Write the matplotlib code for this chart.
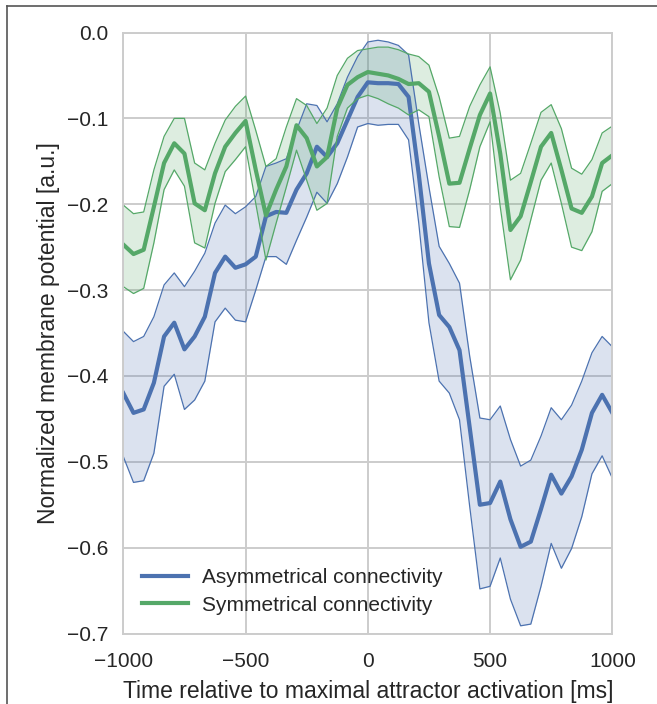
import numpy as np
import matplotlib
matplotlib.use("Agg")
import matplotlib.pyplot as plt
from matplotlib.lines import Line2D

# tiempo relativo (ms), paso de 1000/24 ms
t = np.linspace(-1000, 1000, 49)

# Conectividad asimetrica (azul)
asym_mean = [-0.420, -0.443, -0.439, -0.408, -0.354, -0.338, -0.369, -0.354, -0.331, -0.280,
             -0.261, -0.274, -0.270, -0.261, -0.214, -0.209, -0.210, -0.183, -0.164, -0.133,
             -0.145, -0.129, -0.102, -0.075, -0.058, -0.059, -0.059, -0.060, -0.075, -0.165,
             -0.269, -0.329, -0.343, -0.370, -0.460, -0.550, -0.548, -0.523, -0.567, -0.599,
             -0.593, -0.555, -0.515, -0.537, -0.517, -0.486, -0.443, -0.422, -0.443]
asym_upper = [-0.348, -0.360, -0.354, -0.331, -0.294, -0.280, -0.296, -0.278, -0.257, -0.222,
              -0.201, -0.211, -0.203, -0.191, -0.156, -0.152, -0.147, -0.114, -0.083, -0.085,
              -0.104, -0.083, -0.052, -0.028, -0.011, -0.009, -0.011, -0.015, -0.026, -0.106,
              -0.180, -0.249, -0.269, -0.292, -0.377, -0.449, -0.451, -0.435, -0.474, -0.505,
              -0.498, -0.470, -0.437, -0.451, -0.434, -0.406, -0.373, -0.354, -0.366]
asym_lower = [-0.494, -0.524, -0.522, -0.490, -0.412, -0.398, -0.439, -0.428, -0.406, -0.337,
              -0.321, -0.335, -0.337, -0.300, -0.261, -0.261, -0.270, -0.242, -0.215, -0.186,
              -0.199, -0.176, -0.145, -0.110, -0.106, -0.108, -0.107, -0.107, -0.125, -0.222,
              -0.338, -0.406, -0.420, -0.451, -0.552, -0.648, -0.645, -0.612, -0.660, -0.691,
              -0.689, -0.645, -0.595, -0.624, -0.601, -0.564, -0.514, -0.493, -0.519]

# Conectividad simetrica (verde)
sym_mean = [-0.247, -0.258, -0.253, -0.203, -0.152, -0.129, -0.141, -0.199, -0.207, -0.164,
            -0.133, -0.117, -0.103, -0.160, -0.213, -0.183, -0.156, -0.108, -0.123, -0.156,
            -0.145, -0.088, -0.061, -0.052, -0.046, -0.048, -0.050, -0.054, -0.060, -0.059,
            -0.069, -0.121, -0.176, -0.175, -0.135, -0.096, -0.071, -0.141, -0.230, -0.214,
            -0.174, -0.133, -0.117, -0.160, -0.205, -0.210, -0.191, -0.152, -0.143]
sym_upper = [-0.201, -0.211, -0.209, -0.160, -0.121, -0.100, -0.100, -0.152, -0.160, -0.129,
             -0.102, -0.086, -0.074, -0.114, -0.156, -0.147, -0.110, -0.077, -0.085, -0.106,
             -0.088, -0.050, -0.030, -0.021, -0.019, -0.017, -0.017, -0.020, -0.025, -0.028,
             -0.038, -0.075, -0.123, -0.121, -0.086, -0.061, -0.040, -0.094, -0.172, -0.164,
             -0.129, -0.093, -0.084, -0.112, -0.158, -0.165, -0.148, -0.117, -0.109]
sym_lower = [-0.296, -0.304, -0.298, -0.245, -0.183, -0.160, -0.179, -0.245, -0.251, -0.199,
             -0.162, -0.148, -0.133, -0.199, -0.265, -0.222, -0.180, -0.137, -0.172, -0.207,
             -0.199, -0.121, -0.088, -0.077, -0.073, -0.077, -0.083, -0.088, -0.096, -0.090,
             -0.098, -0.168, -0.226, -0.227, -0.183, -0.133, -0.104, -0.203, -0.288, -0.265,
             -0.218, -0.172, -0.152, -0.199, -0.250, -0.254, -0.232, -0.185, -0.176]

blue = "#4C72B0"
green = "#55A868"

plt.rcParams['font.family'] = ['Liberation Sans', 'DejaVu Sans']
plt.rcParams['text.color'] = '#262626'
plt.rcParams['axes.labelcolor'] = '#262626'
plt.rcParams['xtick.color'] = '#262626'
plt.rcParams['ytick.color'] = '#262626'

fig = plt.figure(figsize=(6.57, 7.04), dpi=100)
ax = fig.add_axes([0.1877, 0.1001, 0.7443, 0.8537])

for mean, up, lo, col, lab in [(asym_mean, asym_upper, asym_lower, blue, "Asymmetrical connectivity"),
                               (sym_mean, sym_upper, sym_lower, green, "Symmetrical connectivity")]:
    ax.fill_between(t, lo, up, color=col, alpha=0.2, linewidth=0)
    ax.plot(t, up, color=col, lw=0.9)
    ax.plot(t, lo, color=col, lw=0.9)
    ax.plot(t, mean, color=col, lw=3, label=lab)

ax.set_xlim(-1000, 1000)
ax.set_ylim(-0.7, 0.0)
ax.set_xticks([-1000, -500, 0, 500, 1000])
ax.set_yticks(np.arange(-0.7, 0.01, 0.1))
ax.set_yticklabels(["\u22120.7", "\u22120.6", "\u22120.5", "\u22120.4", "\u22120.3", "\u22120.2", "\u22120.1", "0.0"])
ax.set_xticklabels(["\u22121000", "\u2212500", "0", "500", "1000"])
ax.tick_params(labelsize=15, length=0)
ax.tick_params(axis='x', pad=13)
ax.tick_params(axis='y', pad=11)
ax.grid(True, color="#cccccc", lw=1.4)
ax.set_axisbelow(True)
for s in ax.spines.values():
    s.set_color("#cccccc")
    s.set_linewidth(1.4)

ax.set_xlabel("Time relative to maximal attractor activation [ms]", fontsize=16.5, labelpad=7)
ax.set_ylabel("Normalized membrane potential [a.u.]", fontsize=16.5, labelpad=5)

ax.legend(loc="lower left", frameon=False, fontsize=15, handlelength=2.2,
          handletextpad=0.7, labelspacing=0.4, borderaxespad=0.5, bbox_to_anchor=(0.0, 0.0))

# marco exterior (recortado)
fig.add_artist(Line2D([7/657, 7/657], [0, 1 - 6/704], color="#555555", lw=1.2, transform=fig.transFigure))
fig.add_artist(Line2D([7/657, 1], [1 - 6/704, 1 - 6/704], color="#555555", lw=1.2, transform=fig.transFigure))

plt.savefig("out.png", dpi=100)
